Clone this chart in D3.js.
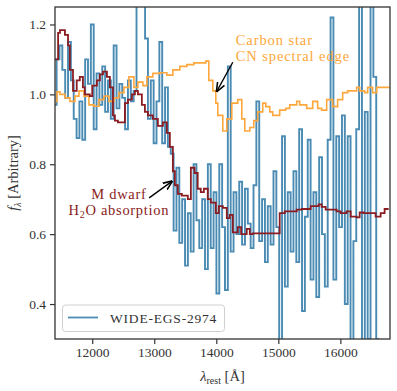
<!DOCTYPE html>
<html lang="en">
<head>
    <meta charset="UTF-8">
    <title>WIDE-EGS-2974 spectrum</title>
    <style>
        body, html {
            margin: 0;
            padding: 0;
            background: #ffffff;
        }
        svg {
            display: block;
        }
        svg text {
            font-family: 'Liberation Serif', 'DejaVu Serif', serif;
        }
        .tick text {
            font-size: 13.5px;
            fill: #333;
        }
        .tick line {
            stroke: #333;
        }
    </style>
</head>
<body>
    <svg width="397" height="391"></svg>

    <script src="https://d3js.org/d3.v7.min.js"></script>
    <script>
        // observed spectrum, bins start at 11380 A and are 46 A wide
        const blueStart = 11380;
        const blueBin = 46;
        const blueFlux = [
            0.97, 1.10, 1.14, 1.07, 0.99, 1.15, 1.04, 0.93, 0.875, 0.98,
            0.87, 1.10, 1.03, 1.20, 0.90, 1.06, 0.97, 1.08, 0.95, 1.04,
            0.93, 1.14, 0.96, 1.03, 0.99, 0.90, 1.04, 0.98, 1.01, 1.35,
            1.28, 1.33, 1.16, 0.93, 1.04, 0.86, 0.98, 1.15, 0.86, 1.02,
            0.85, 0.83, 0.61, 0.79, 0.575, 0.70, 0.51, 0.66, 0.55, 0.80,
            0.64, 0.56, 0.70, 0.50, 0.80, 0.56, 0.72, 0.43, 0.80, 0.62,
            0.44, 1.08, 0.55, 0.72, 0.60, 0.75, 0.57, 0.73, 0.63, 0.56,
            0.74, 0.98, 0.58, 0.70, 0.52, 0.68, 0.57, 0.78, 0.62, 0.28,
            0.88, 0.45, 0.72, 0.55, 0.78, 0.52, 0.90, 0.38, 0.65, 0.87,
            0.47, 0.72, 0.42, 0.82, 0.60, 0.45, 0.87, 1.22, 0.47, 0.88,
            0.62, 0.94, 0.40, 0.88, 0.28, 0.58, 0.90, 1.35, 0.28, 0.95,
            0.30, 1.35, 1.05, 0.30
        ];

        // carbon star template (step starts)
        const carbonWave = [11400, 11432, 11480, 11561, 11641, 11722, 11786, 11867, 11947, 12028,
            12108, 12189, 12269, 12350, 12430, 12511, 12591, 12672, 12736, 12817,
            12881, 12978, 13090, 13203, 13300, 13412, 13525, 13638, 13831, 13879,
            13944, 13992, 14024, 14105, 14169, 14250, 14346, 14411, 14459, 14540,
            14604, 14668, 14749, 14797, 14862, 14910, 15022, 15119, 15183, 15296,
            15344, 15457, 15554, 15634, 15698, 15779, 15876, 15956, 16037, 16118,
            16263, 16311, 16392, 16440, 16520, 16585, 16794];
        const carbonFlux = [0.98, 1.007, 1.0, 0.99, 0.98, 0.995, 1.01, 0.995, 0.97, 0.966,
            0.985, 0.995, 0.98, 0.99, 1.005, 1.02, 1.05, 1.02, 1.035, 1.025,
            1.05, 1.06, 1.062, 1.055, 1.07, 1.08, 1.085, 1.09, 1.095, 1.04,
            1.01, 0.975, 0.94, 0.895, 0.93, 0.975, 0.985, 0.93, 0.895, 0.905,
            0.925, 0.95, 0.975, 0.965, 0.95, 0.94, 0.955, 0.96, 0.97, 0.98,
            0.97, 0.96, 0.98, 0.96, 0.955, 0.985, 0.965, 0.985, 1.005, 1.01,
            1.02, 1.01, 1.005, 1.02, 1.005, 1.02, 1.02];

        // M dwarf template (step starts)
        const dwarfWave = [11400, 11450, 11480, 11560, 11610, 11640, 11690, 11750, 11800, 11850,
            11880, 11960, 12000, 12076, 12124, 12173, 12237, 12285, 12334, 12366,
            12414, 12527, 12575, 12640, 12688, 12736, 12800, 12849, 12897, 12978,
            13058, 13139, 13203, 13251, 13300, 13332, 13380, 13445, 13541, 13590,
            13650, 13700, 13750, 13800, 13863, 13912, 13992, 14040, 14105, 14169,
            14217, 14266, 14346, 14400, 14491, 14540, 14588, 15022, 15103, 15296,
            15377, 15521, 15650, 15698, 15763, 15940, 16005, 16101, 16166, 16263,
            16311, 16375, 16568, 16649, 16713, 16778];
        const dwarfFlux = [1.10, 1.176, 1.184, 1.17, 1.14, 1.07, 1.01, 1.04, 1.05, 1.02,
            1.0, 0.995, 1.025, 1.04, 1.057, 1.065, 1.05, 1.02, 0.94, 0.925,
            0.92, 0.975, 0.985, 1.0, 1.01, 1.0, 0.97, 0.95, 0.94, 0.93,
            0.91, 0.92, 0.89, 0.85, 0.78, 0.74, 0.715, 0.71, 0.70, 0.79,
            0.775, 0.73, 0.72, 0.73, 0.70, 0.69, 0.66, 0.68, 0.675, 0.646,
            0.655, 0.605, 0.62, 0.60, 0.615, 0.60, 0.602, 0.66, 0.665, 0.67,
            0.672, 0.68, 0.685, 0.678, 0.67, 0.665, 0.66, 0.665, 0.65, 0.648,
            0.662, 0.66, 0.65, 0.66, 0.672, 0.672];

        const xTicks = [12000, 13000, 14000, 15000, 16000];
        const yTicks = [0.4, 0.6, 0.8, 1.0, 1.2];

        const colBlue = "#4a8bb3";
        const colOrange = "#fea73c";
        const colRed = "#8a1c22";

        const svg = d3.select("svg");
        const margin = {left: 55, right: 7, top: 7, bottom: 52};
        const W = 397, H = 391;

        const x = d3.scaleLinear().domain([11400, 16800]).range([margin.left, W - margin.right]);
        const y = d3.scaleLinear().domain([0.3, 1.25]).range([H - margin.bottom, margin.top]);
        const pw = x.range()[1] - x.range()[0];
        const ph = y.range()[0] - y.range()[1];

        svg.append("clipPath").attr("id", "plot")
            .append("rect")
            .attr("x", x.range()[0]).attr("y", y.range()[1])
            .attr("width", pw).attr("height", ph);

        const line = d3.line()
            .x(d => x(d[0]))
            .y(d => y(d[1]))
            .curve(d3.curveStepAfter);

        // step points
        const bluePts = blueFlux.map((f, i) => [blueStart + i * blueBin, f]);
        bluePts.push([blueStart + blueFlux.length * blueBin, blueFlux[blueFlux.length - 1]]);
        const carbonPts = carbonWave.map((w, i) => [w, carbonFlux[i]]);
        const dwarfPts = dwarfWave.map((w, i) => [w, dwarfFlux[i]]);

        const g = svg.append("g").attr("clip-path", "url(#plot)");

        g.append("path").datum(bluePts)
            .attr("d", line)
            .attr("fill", "none")
            .attr("stroke", colBlue)
            .attr("stroke-width", 1.9);

        g.append("path").datum(carbonPts)
            .attr("d", line)
            .attr("fill", "none")
            .attr("stroke", colOrange)
            .attr("stroke-width", 1.6);

        g.append("path").datum(dwarfPts)
            .attr("d", line)
            .attr("fill", "none")
            .attr("stroke", colRed)
            .attr("stroke-width", 1.8);

        // axes
        const xAxis = svg.append("g")
            .attr("transform", `translate(0,${y.range()[0]})`)
            .call(d3.axisBottom(x).tickValues(xTicks).tickSize(5).tickPadding(3).tickFormat(d3.format("d")));
        const yAxis = svg.append("g")
            .attr("transform", `translate(${x.range()[0]},0)`)
            .call(d3.axisLeft(y).tickValues(yTicks).tickSize(5).tickPadding(4).tickFormat(d3.format(".1f")));
        [xAxis, yAxis].forEach(a => {
            a.attr("font-family", null).attr("font-size", null);
            a.select(".domain").remove();
            a.selectAll(".tick line").attr("stroke-width", 1.2);
        });

        // frame
        svg.append("rect")
            .attr("x", x.range()[0]).attr("y", y.range()[1])
            .attr("width", pw).attr("height", ph)
            .attr("fill", "none")
            .attr("stroke", "#333")
            .attr("stroke-width", 1.3);

        // axis labels
        const xl = svg.append("text")
            .attr("x", x.range()[0] + pw / 2)
            .attr("y", 381)
            .attr("text-anchor", "middle")
            .attr("fill", "#333")
            .style("font-size", "14.5px");
        xl.append("tspan").attr("font-style", "italic").text("λ");
        xl.append("tspan").attr("dy", 3).style("font-size", "10px").text("rest");
        xl.append("tspan").attr("dy", -3).text(" [Å]");

        const yl = svg.append("text")
            .attr("transform", `translate(18,${y.range()[1] + ph / 2}) rotate(-90)`)
            .attr("text-anchor", "middle")
            .attr("fill", "#333")
            .style("font-size", "14.5px");
        yl.append("tspan").attr("font-style", "italic").text("f");
        yl.append("tspan").attr("dy", 3).attr("font-style", "italic").style("font-size", "10px").text("λ");
        yl.append("tspan").attr("dy", -3).text(" [Arbitrary]");

        // annotations
        svg.append("defs").append("marker")
            .attr("id", "head")
            .attr("viewBox", "0 0 10 10")
            .attr("refX", 9).attr("refY", 5)
            .attr("markerWidth", 7).attr("markerHeight", 7)
            .attr("orient", "auto")
            .append("path")
            .attr("d", "M0,1 L10,5 L0,9")
            .attr("fill", "none")
            .attr("stroke", "#000")
            .attr("stroke-width", 1.6);

        const carbonText = svg.append("text")
            .attr("fill", colOrange)
            .style("font-size", "14.5px")
            .style("letter-spacing", "0.9px");
        carbonText.append("tspan").attr("x", x(14314)).attr("y", y(1.14)).text("Carbon star");
        carbonText.append("tspan").attr("x", x(14314)).attr("y", y(1.095)).text("CN spectral edge");

        svg.append("line")
            .attr("x1", x(14266)).attr("y1", y(1.092))
            .attr("x2", x(14008)).attr("y2", y(1.009))
            .attr("stroke", "#000").attr("stroke-width", 1.4)
            .attr("marker-end", "url(#head)");

        const dwarfText = svg.append("text")
            .attr("fill", colRed)
            .attr("text-anchor", "middle")
            .style("font-size", "14.5px")
            .style("letter-spacing", "0.7px");
        dwarfText.append("tspan").attr("x", x(12430)).attr("y", y(0.70)).text("M dwarf");
        dwarfText.append("tspan").attr("x", x(12430)).attr("y", y(0.656)).text("H");
        dwarfText.append("tspan").attr("dy", 3).style("font-size", "10px").text("2");
        dwarfText.append("tspan").attr("dy", -3).text("O absorption");

        svg.append("line")
            .attr("x1", x(12918)).attr("y1", y(0.704))
            .attr("x2", x(13284)).attr("y2", y(0.751))
            .attr("stroke", "#000").attr("stroke-width", 1.4)
            .attr("marker-end", "url(#head)");

        // legend
        const leg = svg.append("g");
        leg.append("rect")
            .attr("x", 62.5).attr("y", 305)
            .attr("width", 162).attr("height", 26.5)
            .attr("rx", 3)
            .attr("fill", "rgba(255,255,255,0.8)")
            .attr("stroke", "#d0d0d0");
        leg.append("line")
            .attr("x1", 68).attr("x2", 98).attr("y1", 317.5).attr("y2", 317.5)
            .attr("stroke", colBlue).attr("stroke-width", 1.8);
        leg.append("text")
            .attr("x", 110).attr("y", 322.5)
            .attr("fill", "#333")
            .style("font-size", "13.5px")
            .style("letter-spacing", "0.8px")
            .text("WIDE-EGS-2974");
    </script>
</body>
</html>
